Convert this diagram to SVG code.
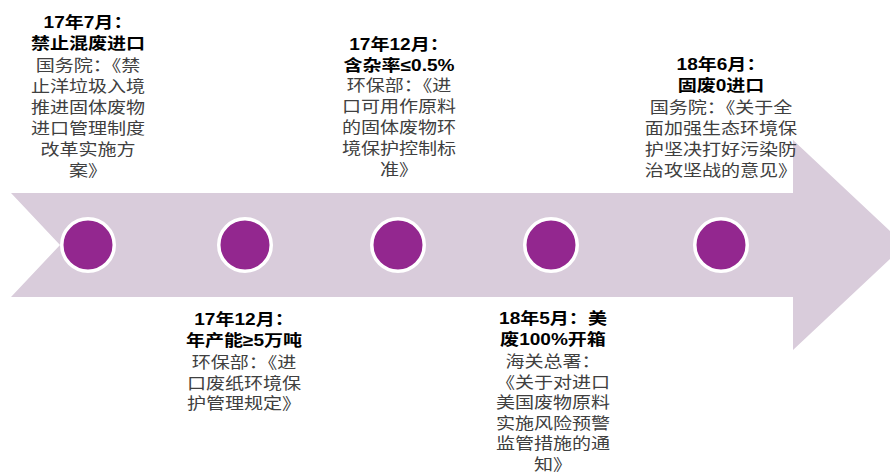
<svg xmlns="http://www.w3.org/2000/svg" width="890" height="472" viewBox="0 0 890 472">
<style>
.t{font-family:"Liberation Sans","Noto Sans CJK SC",sans-serif;font-weight:bold;font-size:16px;fill:#000;text-anchor:middle}
.b{font-family:"Noto Sans CJK SC","Liberation Sans",sans-serif;font-size:16px;fill:#404040;text-anchor:middle}
.dot{fill:#93278F;stroke:#fff;stroke-width:3.5}
</style>
<rect width="890" height="472" fill="#fff"/>
<g id="connectors">
<polygon id="timeline-arrow" points="11,193 793,193 793,140 905,245 793,350 793,297 11,297 60,245" fill="#D9CCDB"/>
</g>
<g id="node-1707">
<circle class="dot" cx="88" cy="245" r="26.25"/>
<g transform="translate(88,0) scale(1.19,1)">
<text class="t" x="0" y="28.5">17年7月：</text>
<text class="t" x="0" y="49">禁止混废进口</text>
<text class="b" x="0" y="71">国务院：《禁</text>
<text class="b" x="0" y="92">止洋垃圾入境</text>
<text class="b" x="0" y="113">推进固体废物</text>
<text class="b" x="0" y="134">进口管理制度</text>
<text class="b" x="0" y="155">改革实施方</text>
<text class="b" x="0" y="176">案》</text>
</g>
</g>
<g id="node-1712a">
<circle class="dot" cx="245" cy="245" r="26.25"/>
<g transform="translate(244,0) scale(1.19,1)">
<text class="t" x="0" y="325">17年12月：</text>
<text class="t" x="0" y="346">年产能≥5万吨</text>
<text class="b" x="0" y="368.5">环保部：《进</text>
<text class="b" x="0" y="389">口废纸环境保</text>
<text class="b" x="0" y="409.5">护管理规定》</text>
</g>
</g>
<g id="node-1712b">
<circle class="dot" cx="398" cy="245" r="26.25"/>
<g transform="translate(399,0) scale(1.19,1)">
<text class="t" x="0" y="50">17年12月：</text>
<text class="t" x="0" y="71.5">含杂率≤0.5%</text>
<text class="b" x="0" y="91.5">环保部：《进</text>
<text class="b" x="0" y="112.5">口可用作原料</text>
<text class="b" x="0" y="133.5">的固体废物环</text>
<text class="b" x="0" y="154.5">境保护控制标</text>
<text class="b" x="0" y="175.5">准》</text>
</g>
</g>
<g id="node-1805">
<circle class="dot" cx="551" cy="245" r="26.25"/>
<g transform="translate(553,0) scale(1.19,1)">
<text class="t" x="0" y="324.5">18年5月：美</text>
<text class="t" x="0" y="345.5">废100%开箱</text>
<text class="b" x="0" y="367.5">海关总署：</text>
<text class="b" x="0" y="388">《关于对进口</text>
<text class="b" x="0" y="408.5">美国废物原料</text>
<text class="b" x="0" y="429">实施风险预警</text>
<text class="b" x="0" y="449.5">监管措施的通</text>
<text class="b" x="0" y="470">知》</text>
</g>
</g>
<g id="node-1806">
<circle class="dot" cx="721" cy="245" r="26.25"/>
<g transform="translate(721,0) scale(1.19,1)">
<text class="t" x="0" y="70">18年6月：</text>
<text class="t" x="0" y="91">固废0进口</text>
<text class="b" x="0" y="113.5">国务院：《关于全</text>
<text class="b" x="0" y="134.5">面加强生态环境保</text>
<text class="b" x="0" y="155.5">护坚决打好污染防</text>
<text class="b" x="0" y="176.5">治攻坚战的意见》</text>
</g>
</g>
</svg>
